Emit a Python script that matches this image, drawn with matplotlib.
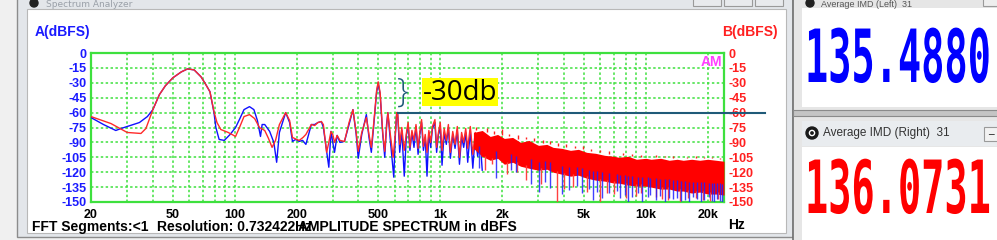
import numpy as np
import matplotlib
matplotlib.use("Agg")
import matplotlib.pyplot as plt
from matplotlib.patches import Rectangle, Circle
from matplotlib.transforms import Affine2D
from matplotlib.patheffects import AbstractPathEffect
from matplotlib.ticker import LogLocator, NullFormatter

# ---------------- data ----------------
# channel A (blue) and channel B (red), low-frequency part: Hz / dBFS
red_f = [20, 25, 30, 35, 37, 40, 43, 46, 50, 55, 59, 63.5, 68.6, 72, 75.8, 79.3, 82, 85.6,
         93, 101, 106, 111, 118, 125, 132, 140, 146, 152, 158, 165, 177, 185, 191, 200,
         206, 215, 222, 236, 245, 254, 264, 270, 280, 287, 294, 300, 306, 315, 325, 342,
         360, 376, 390, 399, 415, 437, 450, 462, 475, 490, 499, 510, 525, 537, 548, 556,
         570, 590, 605, 614]
red_db = [-64, -71, -80, -81, -76, -57, -42, -33, -25, -19, -16, -17, -24, -31, -39, -59, -70, -77,
          -80, -84, -74, -64, -62, -66, -75, -78, -86, -95, -88, -72, -60, -68, -85, -87,
          -88, -85, -82, -72, -73, -70, -69, -72, -100, -90, -79, -82, -90, -83, -88, -89,
          -70, -57, -80, -99, -80, -65, -82, -95, -70, -38, -29, -40, -80, -99, -75, -60,
          -80, -105, -80, -60]
blue_f = [20, 23, 26.4, 28, 30, 34.4, 37.6, 40, 43, 46, 50, 55, 59, 63.5, 68.6, 72, 75.8, 79.3,
          81, 84, 89, 95, 101, 106, 111, 118, 124, 129, 133.5, 136, 140, 148, 155, 160, 165,
          177, 185, 191, 198, 206, 214, 222, 236, 245, 254, 264, 270, 287, 294, 300, 306,
          315, 325, 342, 360, 376, 390, 399, 415, 437, 450, 462, 475, 490, 499, 510, 525,
          537, 548, 556, 570, 594, 605, 614]
blue_db = [-65, -72, -78, -76, -74, -70, -64, -57, -42, -33, -25, -19, -16, -17, -24, -31, -39, -60,
           -75, -87, -88, -82, -75, -66, -57, -54, -57, -68, -84, -72, -72, -79, -90, -110, -80,
           -60, -70, -89, -87, -89, -88, -92, -72, -72, -70, -69, -75, -115, -79, -90, -100,
           -83, -90, -89, -72, -57, -82, -106, -82, -62, -85, -100, -72, -40, -30, -42, -82,
           -105, -72, -60, -85, -125, -82, -60]

# mid-frequency part (individual peaks still visible)
mid_f = [620, 635, 650, 668, 685, 698, 712, 728, 745, 762, 780, 795, 811, 828, 845, 862, 880,
         898, 916, 942, 960, 980, 1000, 1020, 1045, 1070, 1095, 1120, 1150, 1180, 1210, 1240,
         1270, 1300, 1330, 1360, 1400, 1440, 1480, 1520, 1560, 1600]
mid_red = [-60, -92, -75, -98, -80, -70, -95, -78, -88, -72, -96, -80, -67, -94, -82, -100, -78,
           -90, -74, -67, -95, -80, -70, -98, -76, -88, -72, -100, -79, -92, -74, -105, -80, -90,
           -76, -96, -74, -102, -80, -98, -82, -104]
mid_blue = [-60, -100, -78, -124, -82, -72, -98, -80, -95, -74, -102, -82, -70, -98, -85, -124, -80,
            -95, -76, -70, -100, -82, -74, -113, -80, -92, -75, -106, -82, -96, -78, -112, -84, -95,
            -80, -110, -78, -116, -82, -104, -85, -118]

# dense high-frequency part: upper / lower edge of the solid trace band
band_f = [1450, 1600, 1750, 1900, 2050, 2250, 2460, 2700, 3000, 3300, 3540, 3900, 4300, 4700,
          5150, 5700, 6300, 7000, 7390, 8200, 9000, 10000, 10600, 11800, 13000, 14200, 15200,
          16700, 18300, 20000, 22000, 24000]
red_top = [-80, -78, -84, -82, -86, -85, -90, -88, -93, -92, -95, -96, -98, -97, -100, -101,
           -103, -104, -105, -104, -107, -106, -107, -106, -108, -107, -108, -107, -108, -107,
           -108, -109]
red_bot = [-96, -104, -108, -106, -112, -110, -114, -116, -118, -117, -120, -122, -124, -123,
           -126, -128, -129, -131, -131, -133, -134, -134, -135, -137, -137, -139, -139, -141,
           -140, -142, -142, -143]

# short upward spikes above the band
red_tip_f = [1500, 1680, 1820, 2000, 2150, 2380, 2600, 2850, 3150, 3420, 3750, 4100, 4500,
             4950, 5400, 6000, 6600, 7700, 8600, 9500, 11200, 12400, 13600, 15800, 17500,
             19200, 21000, 23000]
red_tip_db = [-74, -76, -79, -77, -82, -83, -85, -86, -88, -89, -91, -92, -94, -94, -97, -98,
              -99, -101, -102, -103, -103, -104, -104, -105, -104, -105, -105, -106]

# isolated downward spikes reaching below the band
red_spike_f = [1650, 1780, 2100, 2350, 2600, 3100, 3680, 4000, 4400, 5200, 6000, 6500, 7000,
               8000, 9000, 9500, 11200, 12000, 12800, 14700, 16000, 17500, 19000, 20500, 22500]
red_spike_db = [-118, -112, -122, -120, -128, -132, -150, -137, -135, -140, -150, -141, -142,
                -146, -144, -141, -145, -147, -148, -150, -146, -146, -148, -149, -147]
blue_spike_f = [1540, 1870, 2200, 2340, 2750, 3030, 3250, 3400, 3900, 4230, 4600, 4880, 5300,
                5560, 5800, 6100, 6600, 7200, 7520, 7900, 8200, 8580, 9200, 9600, 10200, 10500,
                11200, 11700, 12400, 13000, 13500, 14100, 14800, 15500, 16300, 17000, 17800,
                18500, 19100, 20300, 21000, 21500, 22300, 23000, 23600]
blue_spike_db = [-116, -126, -118, -120, -132, -140, -130, -136, -142, -138, -134, -141, -137,
                 -148, -140, -146, -141, -139, -146, -143, -150, -145, -141, -150, -145, -143,
                 -148, -144, -150, -146, -147, -146, -149, -148, -150, -145, -147, -150, -148,
                 -145, -149, -150, -147, -149, -150]

y_ticks = [0, -15, -30, -45, -60, -75, -90, -105, -120, -135, -150]
x_ticks = [20, 50, 100, 200, 500, 1000, 2000, 5000, 10000, 20000]
x_labels = ["20", "50", "100", "200", "500", "1k", "2k", "5k", "10k", "20k"]
f_min, f_max = 20, 24000

imd_left = "135.4880"
imd_right = "136.0731"
ref_level = -60          # annotation line level
ref_start_f = 620        # annotation line starts at this peak
ref_end_f = 38000        # runs past the plot edge
annot_text = "-30db"

# ---------------- helpers ----------------
class Stretch(AbstractPathEffect):
    """Draw text glyphs stretched vertically about their baseline."""
    def __init__(self, sx=1.0, sy=1.0):
        super().__init__()
        self.sx, self.sy = sx, sy

    def draw_path(self, renderer, gc, tpath, affine, rgbFace=None):
        renderer.draw_path(gc, tpath, Affine2D().scale(self.sx, self.sy) + affine, rgbFace)


W, H = 997, 240
fig = plt.figure(figsize=(W / 100, H / 100), dpi=100)
fig.patch.set_facecolor("#f0f0f0")

bg = fig.add_axes([0, 0, 1, 1], zorder=0)
bg.set_xlim(0, W)
bg.set_ylim(H, 0)
bg.axis("off")

def rect(x0, y0, x1, y1, fc, ec="none", lw=0, z=1):
    bg.add_patch(Rectangle((x0, y0), x1 - x0, y1 - y0, facecolor=fc, edgecolor=ec,
                           linewidth=lw, zorder=z))

# left window (spectrum analyser)
rect(17, -2, 793, 237, "#e3e6ea", "#8c8c8c", 1)
rect(27, 9, 786, 233, "white", "#b8b8b8", 0.8, z=2)
bg.add_patch(Circle((34, 3), 4, color="#222222", zorder=3))
bg.text(46, 4.5, "Spectrum Analyzer", fontsize=6.5, color="#9aa0a8", va="center", zorder=3)
for bx in (693, 724, 755):
    rect(bx, -4, bx + 28, 6, "#e8eaed", "#9a9a9a", 0.8, z=3)

# right column (IMD readouts)
rect(793, -2, 999, 242, "#e6e6e6", "#6e6e6e", 1.2)
rect(802, 8, 999, 107, "white", z=2)
bg.add_patch(Circle((810, 3), 4, color="#222222", zorder=3))
bg.text(821, 4.5, "Average IMD (Left)  31", fontsize=6.5, color="#555555", va="center",
        family="Liberation Sans", zorder=3)
rect(983, -4, 999, 6, "#eeeeee", "#9a9a9a", 0.8, z=3)
rect(793, 110, 999, 116, "#c4c4c4", "#8a8a8a", 0.8, z=2)
rect(802, 121, 999, 146, "#e9ecef", z=2)
bg.add_patch(Circle((812, 133), 6, color="#1a1a1a", zorder=3))
bg.add_patch(Circle((812, 133), 2.6, facecolor="none", edgecolor="white", lw=1, zorder=4))
bg.text(823, 133, "Average IMD (Right)  31", fontsize=8.5, color="#333333", va="center",
        family="Liberation Sans", zorder=3)
rect(984, 127, 998, 141, "#f2f2f2", "#9a9a9a", 0.8, z=3)
bg.text(991, 135, "_", fontsize=8, ha="center", va="bottom", color="#222222", zorder=4)
rect(802, 147, 999, 242, "white", z=2)

# large read-outs: monospace bold, width fitted, stretched upward to the tall glyph height
big_fs = 38.6 * 0.72
big_stretch = [Stretch(1.0, 1.9)]
bg.text(805, 82, imd_left, fontsize=big_fs, color="#0000ff", family="DejaVu Sans Mono",
        fontweight="bold", ha="left", va="baseline", zorder=5, path_effects=big_stretch)
bg.text(805, 213, imd_right, fontsize=big_fs, color="#ff0000", family="DejaVu Sans Mono",
        fontweight="bold", ha="left", va="baseline", zorder=5, path_effects=big_stretch)

# ---------------- spectrum plot ----------------
L, R, T, B = 91, 724, 53, 202
ax = fig.add_axes([L / W, 1 - B / H, (R - L) / W, (B - T) / H], zorder=2)
ax.set_xscale("log")
ax.set_xlim(f_min, f_max)
ax.set_ylim(-150, 0)
ax.set_facecolor("white")

grid_c = "#3ee03e"
ax.set_xticks(x_ticks)
ax.set_xticklabels(x_labels)
ax.xaxis.set_minor_locator(LogLocator(base=10, subs=np.arange(1, 10)))
ax.xaxis.set_minor_formatter(NullFormatter())
ax.set_yticks(y_ticks)
ax.set_yticklabels([str(v) for v in y_ticks])
ax.grid(True, which="both", axis="x", color=grid_c, linestyle=(0, (1.6, 1.6)), linewidth=1.1)
ax.grid(True, which="major", axis="y", color=grid_c, linestyle=(0, (1.6, 1.6)), linewidth=1.1)
ax.set_axisbelow(True)
for s in ax.spines.values():
    s.set_color(grid_c)
    s.set_linewidth(1.6)

tick_font = dict(family="Liberation Sans", weight="bold", size=9)
ax.tick_params(axis="both", which="both", length=0)
ax.tick_params(axis="x", pad=5, labelcolor="black")
ax.tick_params(axis="y", pad=3, labelcolor="#1a1aff")
for lab in ax.get_xticklabels() + ax.get_yticklabels():
    lab.set_fontproperties(tick_font)

# traces
lw = 1.0
ax.plot(blue_f + mid_f, blue_db + mid_blue, color="#1010ff", lw=lw, zorder=3)
ax.plot(red_f + mid_f, red_db + mid_red, color="#ff2a2a", lw=lw, zorder=4)
ax.fill_between(band_f, red_top, red_bot, color="#ff0000", lw=0, zorder=4)
top_at = np.interp(np.log(red_tip_f), np.log(band_f), red_top)
ax.vlines(red_tip_f, top_at + 2, red_tip_db, color="#ff2020", lw=1, zorder=4)
red_bot_at = np.interp(np.log(red_spike_f), np.log(band_f), red_bot)
ax.vlines(red_spike_f, red_bot_at + 2, red_spike_db, color="#ff4040", lw=1, zorder=4)
blue_mid_at = np.interp(np.log(blue_spike_f), np.log(band_f),
                        (np.array(red_top) + 2 * np.array(red_bot)) / 3)
ax.vlines(blue_spike_f, blue_mid_at, blue_spike_db, color="#2020ff", lw=1, zorder=5,
          alpha=0.85)

# right-hand scale
ax2 = ax.twinx()
ax2.set_ylim(-150, 0)
ax2.set_yticks(y_ticks)
ax2.set_yticklabels([str(v) for v in y_ticks])
ax2.tick_params(axis="y", length=0, pad=3, labelcolor="#ff2020")
for lab in ax2.get_yticklabels():
    lab.set_fontproperties(tick_font)
for s in ax2.spines.values():
    s.set_visible(False)

# -60 dB reference line of the annotation
ax2.plot([ref_start_f, ref_end_f], [ref_level, ref_level], color="#1f5a78", lw=1.5,
         clip_on=False, zorder=10)

# texts around the plot
lab_font = dict(family="Liberation Sans", weight="bold", size=10)
fg = fig.add_axes([0, 0, 1, 1], zorder=5)
fg.set_xlim(0, W)
fg.set_ylim(H, 0)
fg.axis("off")
fg.patch.set_alpha(0)
fg.text(35, 32, "A(dBFS)", color="#1a1aff", va="center", ha="left", **lab_font)
fg.text(778, 32, "B(dBFS)", color="#ff2020", va="center", ha="right", **lab_font)
fg.text(722, 62, "AM", color="#ff40ff", va="center", ha="right", **lab_font)
fg.text(736, 225, "Hz", color="black", va="center", ha="center", **lab_font)
fg.text(32, 227, "FFT Segments:<1", color="black", va="center", ha="left", **lab_font)
fg.text(157, 227, "Resolution: 0.732422Hz", color="black", va="center", ha="left", **lab_font)
fg.text(298, 227, "AMPLITUDE SPECTRUM in dBFS", color="black", va="center", ha="left",
        **lab_font)

# annotation: brace + highlighted label
fg.text(403, 93, "}", color="#1f5a78", fontsize=24, family="Open Sans",
        fontweight="light", ha="center", va="center")
fg.add_patch(Rectangle((422, 78), 76, 28, facecolor="#ffff00", edgecolor="none"))
fg.text(460, 92.5, annot_text, color="black", fontsize=20, family="Open Sans",
        ha="center", va="center")

fig.savefig("out.png", dpi=100, facecolor=fig.get_facecolor())
